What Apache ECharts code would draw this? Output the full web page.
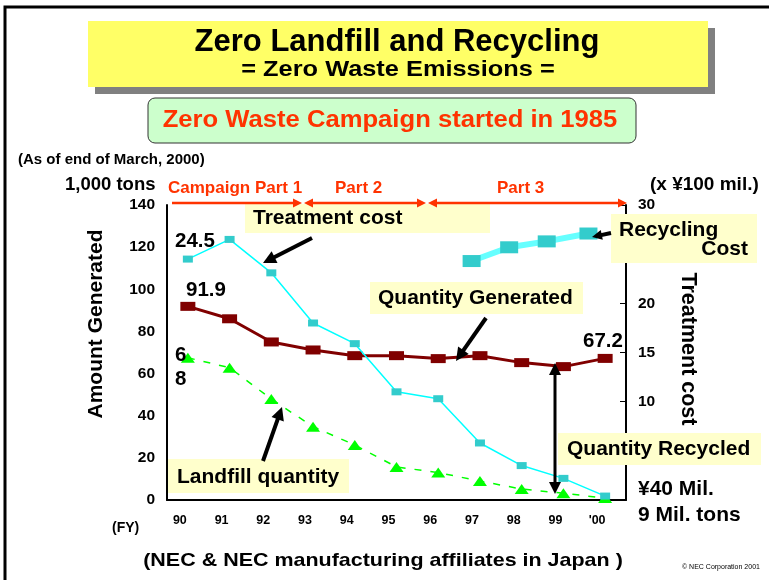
<!DOCTYPE html>
<html>
<head>
<meta charset="utf-8">
<script src="https://cdn.jsdelivr.net/npm/echarts@6/dist/echarts.min.js"></script>
<style>
  html, body { margin: 0; padding: 0; background: #fff; }
  #chart { width: 769px; height: 580px; }
</style>
</head>
<body>
<div id="chart"></div>
<script>
// fiscal years
var years = ['90', '91', '92', '93', '94', '95', '96', '97', '98', '99', "'00"];
// 1,000 tons
var quantityGenerated = [91.9, 86.0, 75.0, 71.2, 68.5, 68.5, 67.1, 68.5, 65.2, 63.3, 67.2];
var landfillQuantity = [67.5, 62.8, 47.9, 34.8, 26.1, 15.7, 13.0, 9.0, 5.2, 3.2, 0.9];
// x 100 mil. yen
var treatmentCost = [24.5, 26.5, 23.1, 18.0, 15.9, 11.0, 10.3, 5.8, 3.5, 2.2, 0.4];
// recycling cost, plotted a bit left of the year centres
var recyclePos = [7.3, 8.2, 9.1, 10.1];
var recyclingCost = [24.3, 25.7, 26.3, 27.1];

var leftTicks = [0, 20, 40, 60, 80, 100, 120, 140];
var rightTicks = [10, 15, 20, 30];

var FONT = 'Liberation Sans, Arial, sans-serif';
var RED = '#FF3300';
var NOTE = '#FFFFCC';

function box(x, y, w, h, fill) {
  return { type: 'rect', shape: { x: x, y: y, width: w, height: h }, style: { fill: fill }, z: 1 };
}
function txt(x, y, s, size, opt) {
  opt = opt || {};
  var st = {
    text: s, fontSize: size, fontWeight: opt.weight || 'bold', fontFamily: FONT,
    fill: opt.color || '#000', align: opt.align || 'left', verticalAlign: 'middle'
  };
  if (opt.shadow) {
    st.shadowColor = '#fff'; st.shadowOffsetX = 2; st.shadowOffsetY = 2; st.shadowBlur = 0.1;
  }
  return {
    type: 'text', x: x, y: y, z: 10,
    rotation: opt.rotation || 0,
    scaleX: opt.sx || 1,
    style: st
  };
}
function head(x2, y2, a, color, hl) {
  var hw = hl * 0.5;
  var bx = x2 - hl * Math.cos(a), by = y2 - hl * Math.sin(a);
  return { type: 'polygon', z: 12, shape: { points: [[x2, y2],
    [bx + hw * Math.sin(a), by - hw * Math.cos(a)],
    [bx - hw * Math.sin(a), by + hw * Math.cos(a)]] }, style: { fill: color } };
}
// line from (x1,y1) to (x2,y2), head at the end, optional head at the start too
function arrow(x1, y1, x2, y2, color, w, hl, both) {
  var a = Math.atan2(y2 - y1, x2 - x1);
  var out = [{ type: 'line', z: 12,
    shape: { x1: both ? x1 + hl * 0.8 * Math.cos(a) : x1, y1: both ? y1 + hl * 0.8 * Math.sin(a) : y1,
             x2: x2 - hl * 0.8 * Math.cos(a), y2: y2 - hl * 0.8 * Math.sin(a) },
    style: { stroke: color, lineWidth: w } }, head(x2, y2, a, color, hl)];
  if (both) out.push(head(x1, y1, a + Math.PI, color, hl));
  return out;
}

var graphics = [
  // frame
  { type: 'rect', shape: { x: 5, y: 7, width: 820, height: 640 }, style: { fill: 'none', stroke: '#000', lineWidth: 3 }, z: 0 },
  // title
  box(95, 28, 620, 66, '#808080'),
  box(88, 21, 620, 66, '#FFFF66'),
  txt(397, 42, 'Zero Landfill and Recycling', 31, { align: 'center', shadow: true }),
  txt(398, 70, '= Zero Waste Emissions =', 21.5, { align: 'center', sx: 1.18 }),
  { type: 'rect', z: 1, shape: { x: 148, y: 98, width: 488, height: 45, r: 7 }, style: { fill: '#CCFFCC', stroke: '#333', lineWidth: 1 } },
  txt(390, 121, 'Zero Waste Campaign started in 1985', 23.5, { align: 'center', color: RED, sx: 1.09 }),
  txt(18, 160, '(As of end of March, 2000)', 15),
  txt(65, 185, '1,000 tons', 18.5),
  txt(650, 185, '(x \u00a5100 mil.)', 19),
  // campaign parts
  txt(168, 188, 'Campaign Part 1', 17, { color: RED }),
  txt(335, 188, 'Part 2', 17, { color: RED }),
  txt(497, 188, 'Part 3', 17, { color: RED }),
  // axis titles
  txt(96, 324, 'Amount Generated', 21, { align: 'center', rotation: Math.PI / 2 }),
  txt(688, 349, 'Treatment cost', 21.5, { align: 'center', rotation: -Math.PI / 2 }),
  txt(112, 528, '(FY)', 14),
  txt(383, 561, '(NEC & NEC manufacturing affiliates in Japan )', 19, { align: 'center', sx: 1.13 }),
  txt(682, 567, '\u00a9 NEC Corporation 2001', 7, { weight: 'normal' }),
  txt(638, 489, '\u00a540 Mil.', 21),
  txt(638, 515, '9 Mil. tons', 21),
  // notes
  box(245, 204, 245, 29, NOTE),
  txt(253, 218, 'Treatment cost', 21),
  box(370, 282, 213, 32, NOTE),
  txt(378, 298, 'Quantity Generated', 21),
  box(611, 214, 146, 49, NOTE),
  txt(619, 230, 'Recycling', 21),
  txt(748, 249, 'Cost', 21, { align: 'right' }),
  box(558, 433, 203, 32, NOTE),
  txt(567, 449, 'Quantity Recycled', 21),
  box(168, 459, 181, 34, NOTE),
  txt(177, 477, 'Landfill quantity', 21),
  // value labels
  txt(175, 241, '24.5', 20.5),
  txt(186, 290, '91.9', 20.5),
  txt(175, 355, '6', 20.5),
  txt(175, 379, '8', 20.5),
  txt(583, 341, '67.2', 20.5)
];

graphics = graphics
  .concat(arrow(172, 203, 302, 203, RED, 2.5, 9, false))
  .concat(arrow(304, 203, 426, 203, RED, 2.5, 9, true))
  .concat(arrow(428, 203, 627, 203, RED, 2.5, 9, true))
  .concat(arrow(312, 238, 263, 263, '#000', 4, 13, false))
  .concat(arrow(486, 318, 456, 361, '#000', 4, 13, false))
  .concat(arrow(611, 233, 592, 237, '#000', 4, 10, false))
  .concat(arrow(263, 461, 282, 407, '#000', 4, 13, false))
  .concat(arrow(555, 363, 555, 494, '#000', 3, 12, true));

var chart = echarts.init(document.getElementById('chart'));
chart.setOption({
  animation: false,
  textStyle: { fontFamily: FONT },
  grid: { left: 167, right: 143, top: 205, bottom: 80 },
  xAxis: [{
    type: 'category',
    data: years,
    boundaryGap: true,
    axisLine: { lineStyle: { color: '#000', width: 2 } },
    axisTick: { inside: true, length: 5, lineStyle: { color: '#000' } },
    axisLabel: { color: '#000', fontWeight: 'bold', fontSize: 12.5, margin: 14, padding: [0, 16, 0, 0] }
  }, {
    type: 'value', min: 0, max: 11, show: false
  }],
  yAxis: [{
    type: 'value', min: 0, max: 140, interval: 20,
    axisLine: { show: true, lineStyle: { color: '#000', width: 2 } },
    axisTick: { show: false },
    splitLine: { show: false },
    axisLabel: {
      color: '#000', fontWeight: 'bold', fontSize: 15.5, margin: 12,
      formatter: function (v) { return leftTicks.indexOf(v) >= 0 ? String(v) : ''; }
    }
  }, {
    type: 'value', min: 0, max: 30, interval: 5, position: 'right',
    axisLine: { show: true, lineStyle: { color: '#000', width: 2 } },
    axisTick: { show: true, inside: true, length: 6, lineStyle: { color: '#000' } },
    splitLine: { show: false },
    axisLabel: {
      color: '#000', fontWeight: 'bold', fontSize: 15.5, margin: 12,
      formatter: function (v) { return rightTicks.indexOf(v) >= 0 ? String(v) : ''; }
    }
  }],
  series: [{
    name: 'Landfill quantity',
    type: 'line',
    data: landfillQuantity,
    symbol: 'triangle', symbolSize: [14, 10],
    itemStyle: { color: '#00FF00' },
    lineStyle: { color: '#00FF00', width: 1.5, type: [7, 9] },
    z: 3
  }, {
    name: 'Quantity Generated',
    type: 'line',
    data: quantityGenerated,
    symbol: 'rect', symbolSize: [15, 9],
    itemStyle: { color: '#800000' },
    lineStyle: { color: '#800000', width: 3 },
    z: 4
  }, {
    name: 'Treatment cost',
    type: 'line',
    yAxisIndex: 1,
    data: treatmentCost,
    symbol: 'rect', symbolSize: [10, 7],
    itemStyle: { color: '#33CCCC' },
    lineStyle: { color: '#00FFFF', width: 1.5 },
    z: 5
  }, {
    name: 'Recycling Cost',
    type: 'line',
    xAxisIndex: 1,
    yAxisIndex: 1,
    data: recyclePos.map(function (x, i) { return [x, recyclingCost[i]]; }),
    symbol: 'rect', symbolSize: [18, 12],
    itemStyle: { color: '#33CCCC' },
    lineStyle: { color: '#66FFFF', width: 6 },
    z: 5
  }],
  graphic: graphics
});
</script>
</body>
</html>
